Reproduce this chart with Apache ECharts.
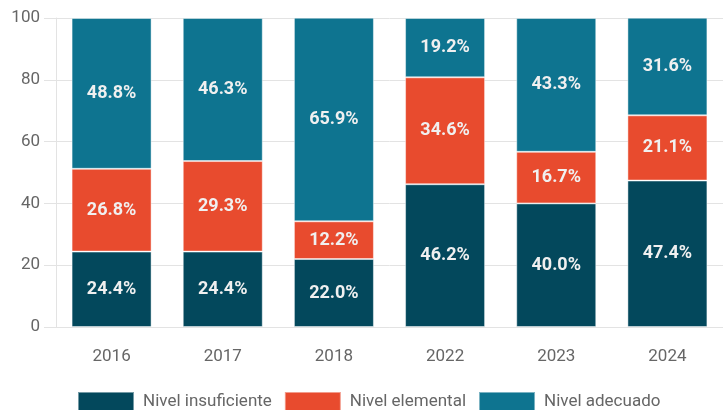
<!DOCTYPE html>
<html>
<head>
<meta charset="utf-8">
<script src="https://cdn.jsdelivr.net/npm/echarts@6/dist/echarts.min.js"></script>
<style>html,body{margin:0;padding:0;background:#fff;}#c{width:723px;height:410px;}</style>
</head>
<body>
<div id="c"></div>
<script>
const categories = ['2016', '2017', '2018', '2022', '2023', '2024'];
const insuficiente = [24.4, 24.4, 22.0, 46.2, 40.0, 47.4];
const elemental = [26.8, 29.3, 12.2, 34.6, 16.7, 21.1];
const adecuado = [48.8, 46.3, 65.9, 19.2, 43.3, 31.6];
const yTicks = [0, 20, 40, 60, 80, 100];
const seriesNames = ['Nivel insuficiente', 'Nivel elemental', 'Nivel adecuado'];
const colors = ['#03485c', '#e84b2e', '#0e7490'];

const FONT = 'Roboto, sans-serif';
const chart = echarts.init(document.getElementById('c'), null, {renderer: 'canvas'});
function mk(name, data, color) {
  return {
    name: name, type: 'bar', stack: 'total', data: data,
    barWidth: 80,
    itemStyle: {color: color, borderColor: 'rgba(255,255,255,0.45)', borderWidth: 1},
    label: {show: true, position: 'inside', color: '#f0f0f0', fontFamily: FONT, fontWeight: 'bold', fontSize: 18,
      formatter: p => p.value.toFixed(1) + '%'}
  };
}
chart.setOption({
  animation: false,
  color: colors,
  grid: {left: 56, right: -8, top: 18, bottom: 83, containLabel: false},
  legend: {
    bottom: -3, left: 77, padding: 0, itemWidth: 56, itemHeight: 20, itemGap: 12,
    textStyle: {fontFamily: FONT, fontSize: 17, color: '#666', padding: [0, 0, 0, 4]},
    icon: 'rect',
    data: seriesNames
  },
  xAxis: {
    type: 'category', data: categories,
    axisLine: {show: true, lineStyle: {color: '#e3e3e3'}},
    axisTick: {show: false},
    axisLabel: {fontFamily: FONT, fontSize: 17, color: '#666', margin: 21}
  },
  yAxis: {
    type: 'value', min: 0, max: 100, interval: 20,
    axisLine: {show: true, lineStyle: {color: '#e3e3e3'}},
    axisTick: {show: true, length: 12, lineStyle: {color: '#e3e3e3'}},
    splitLine: {show: true, lineStyle: {color: '#e3e3e3'}},
    axisLabel: {fontFamily: FONT, fontSize: 17, color: '#666', margin: 16,
      formatter: v => yTicks.includes(v) ? String(v) : ''}
  },
  series: [
    mk(seriesNames[0], insuficiente, colors[0]),
    mk(seriesNames[1], elemental, colors[1]),
    mk(seriesNames[2], adecuado, colors[2])
  ]
});
</script>
</body>
</html>
